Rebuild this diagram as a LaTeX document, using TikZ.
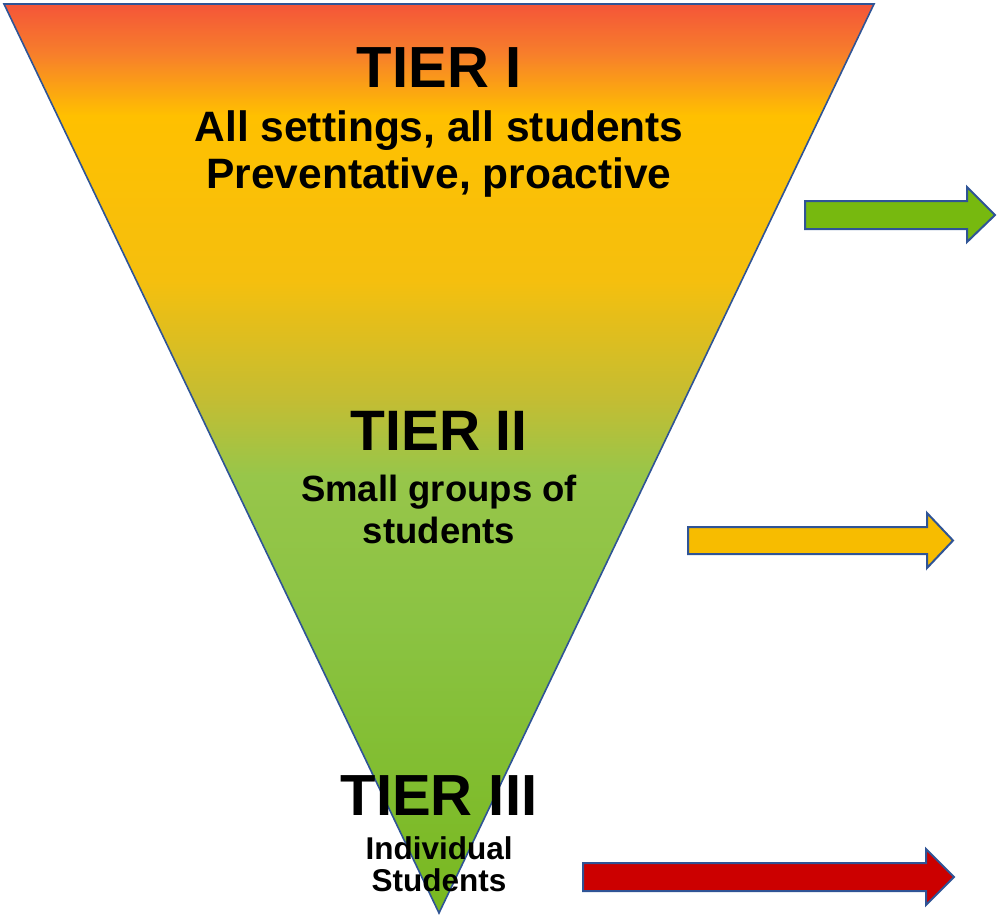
\documentclass[tikz,border=0pt]{standalone}
\usepackage{fontspec}
\setmainfont{Liberation Sans}
\definecolor{edgeblue}{HTML}{2F5496}
\definecolor{arrowgreen}{HTML}{77B90F}
\definecolor{arrowgold}{HTML}{F7BC00}
\definecolor{arrowred}{HTML}{CC0000}
\definecolor{cA}{HTML}{F4523A}
\definecolor{cB}{HTML}{F7802A}
\definecolor{cC}{HTML}{FFC000}
\definecolor{cD}{HTML}{F5BF0E}
\definecolor{cE}{HTML}{C3BD33}
\definecolor{cF}{HTML}{97C64A}
\definecolor{cG}{HTML}{8BC343}
\definecolor{cH}{HTML}{78B81F}
\begin{document}
\begin{tikzpicture}[x=1pt,y=-1pt,
  blockarrow/.style={draw=edgeblue, line width=2pt, line join=miter},
  label/.style={anchor=base, inner sep=0pt, text=black},
  tierhead/.style={label, font={\fontsize{#1}{#1}\selectfont\bfseries}},
  tiertext/.style={label, font={\fontsize{#1}{#1}\selectfont\bfseries}}]
\useasboundingbox (0,0) rectangle (1000,919);

% inverted triangle with a vertical colour ramp
\coordinate (tl) at (4,4);
\coordinate (tr) at (874,4);
\coordinate (apex) at (439,913);
\begin{scope}
  \clip (tl) -- (tr) -- (apex) -- cycle;
  \shade[top color=cA, bottom color=cB] (0,0) rectangle (1000,55.5);
  \shade[top color=cB, bottom color=cC] (0,55) rectangle (1000,115.5);
  \shade[top color=cC, bottom color=cD] (0,115) rectangle (1000,280.5);
  \shade[top color=cD, bottom color=cE] (0,280) rectangle (1000,400.5);
  \shade[top color=cE, bottom color=cF] (0,400) rectangle (1000,475.5);
  \shade[top color=cF, bottom color=cG] (0,475) rectangle (1000,620.5);
  \shade[top color=cG, bottom color=cH] (0,620) rectangle (1000,919);
\end{scope}
\draw[edgeblue, line width=1.6pt, line join=miter] (tl) -- (tr) -- (apex) -- cycle;

% block arrows on the right
\draw[blockarrow, fill=arrowgreen] (805,201) -- (967,201) -- (967,187) -- (995,215)
  -- (967,242) -- (967,229) -- (805,229) -- cycle;
\draw[blockarrow, fill=arrowgold] (688,527) -- (927,527) -- (927,513) -- (953,540.5)
  -- (927,568) -- (927,554) -- (688,554) -- cycle;
\draw[blockarrow, fill=arrowred] (583,863) -- (926,863) -- (926,849) -- (954,877)
  -- (926,905) -- (926,891) -- (583,891) -- cycle;

% tier labels
\node[tierhead=58] (t1) at (439,87) {TIER I};
\node[tiertext=42.5] (t1a) at (439,141) {All settings, all students};
\node[tiertext=42.5] (t1b) at (439,188) {Preventative, proactive};

\node[tierhead=57] (t2) at (439,450) {TIER II};
\node[tiertext=36.5] (t2a) at (439,501) {Small groups of};
\node[tiertext=36.5] (t2b) at (439,543) {students};

\node[tierhead=58] (t3) at (439,815) {TIER III};
\node[tiertext=31.5] (t3a) at (439,859) {Individual};
\node[tiertext=31.5] (t3b) at (439,891) {Students};
\end{tikzpicture}
\end{document}
